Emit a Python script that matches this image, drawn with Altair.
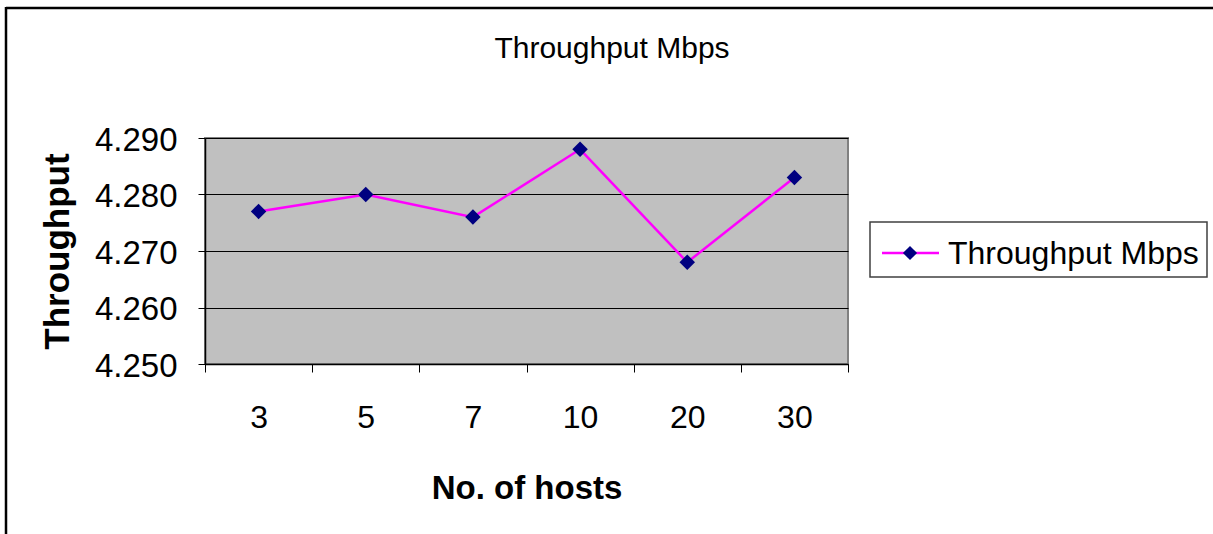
import altair as alt
import pandas as pd

# Measured throughput (Mbps) for each network size
hosts = ["3", "5", "7", "10", "20", "30"]
throughput = [4.277, 4.280, 4.276, 4.288, 4.268, 4.283]
series_name = "Throughput Mbps"
y_ticks = [4.25, 4.26, 4.27, 4.28, 4.29]

FONT = "Liberation Sans"
LINE_COLOR = "#FF00FF"
MARK_COLOR = "#000080"
FRAME_COLOR = "#000000"

df = pd.DataFrame({"hosts": hosts, "throughput": throughput})
label_df = pd.DataFrame({"label": [series_name]})

x_enc = alt.X(
    "hosts:N",
    sort=hosts,
    scale=alt.Scale(type="band", paddingInner=0, paddingOuter=0),
    axis=alt.Axis(
        title="No. of hosts",
        titleFont=FONT,
        titleFontSize=33,
        titleFontWeight="bold",
        titleColor="black",
        titleBaseline="alphabetic",
        titleY=134,
        labelAngle=0,
        labelFont=FONT,
        labelFontSize=32,
        labelColor="black",
        labelBaseline="alphabetic",
        labelPadding=55,
        tickBand="extent",
        tickSize=8,
        tickColor="black",
        domainColor="black",
        domainWidth=1.5,
        grid=False,
    ),
)

y_enc = alt.Y(
    "throughput:Q",
    scale=alt.Scale(domain=[4.25, 4.29], nice=False, zero=False),
    axis=alt.Axis(
        title="Throughput",
        titleFont=FONT,
        titleFontSize=35,
        titleFontWeight="bold",
        titleColor="black",
        titleX=-130,
        titleY=113,
        titleAngle=270,
        titleBaseline="bottom",
        values=y_ticks,
        format=".3f",
        labelFont=FONT,
        labelFontSize=33,
        labelColor="black",
        labelPadding=21,
        labelOffset=2,
        labelFlush=False,
        tickSize=7,
        tickColor="black",
        domainColor="black",
        domainWidth=1.5,
        grid=True,
        gridColor="black",
        gridWidth=1,
    ),
)

base = alt.Chart(df).encode(x=x_enc, y=y_enc)
line = base.mark_line(color=LINE_COLOR, strokeWidth=2.5)
points = base.mark_point(shape="diamond", filled=True, color=MARK_COLOR, size=240, opacity=1)

# Outer chart frame: top and left edges
frame_top = alt.Chart(label_df).mark_rule(color=FRAME_COLOR, strokeWidth=2.5).encode(
    x=alt.value(-199), x2=alt.value(1100), y=alt.value(-130)
)
frame_left = alt.Chart(label_df).mark_rule(color=FRAME_COLOR, strokeWidth=2.5).encode(
    x=alt.value(-199), y=alt.value(-131), y2=alt.value(500)
)

# Chart title
title = alt.Chart(label_df).mark_text(
    font=FONT, fontSize=30, color="black", align="center", baseline="alphabetic"
).encode(x=alt.value(407), y=alt.value(-80), text="label:N")

# Legend box with line + diamond sample
leg_box = alt.Chart(label_df).mark_rect(fill="white", stroke="#404040", strokeWidth=1.5).encode(
    x=alt.value(665), x2=alt.value(1002), y=alt.value(84), y2=alt.value(139)
)
leg_line = alt.Chart(label_df).mark_rule(color=LINE_COLOR, strokeWidth=2.5).encode(
    x=alt.value(677), x2=alt.value(734), y=alt.value(115)
)
leg_pt = alt.Chart(label_df).mark_point(
    shape="diamond", filled=True, color=MARK_COLOR, size=200, opacity=1
).encode(x=alt.value(705), y=alt.value(115))
leg_text = alt.Chart(label_df).mark_text(
    font=FONT, fontSize=32, color="black", align="left", baseline="alphabetic"
).encode(x=alt.value(743), y=alt.value(126), text="label:N")

chart = (
    alt.layer(frame_top, frame_left, line, points, title, leg_box, leg_line, leg_pt, leg_text)
    .properties(
        width=643,
        height=226,
        padding={"left": 205, "top": 138, "right": 365, "bottom": 170},
        autosize=alt.AutoSizeParams(type="none"),
    )
    .configure(background="white")
    .configure_view(fill="#C0C0C0", stroke="#808080", strokeWidth=2)
)

chart.save("out.html", embed_options={"renderer": "svg", "actions": False})
